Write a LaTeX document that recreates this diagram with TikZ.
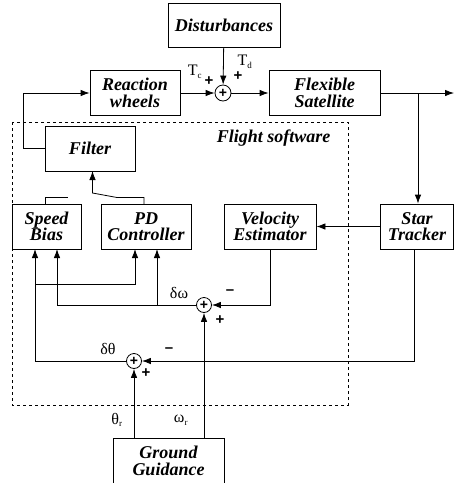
\documentclass[tikz,border=0pt]{standalone}
\usepackage{fontspec}
\setmainfont{Liberation Serif}
\newfontfamily\sgnfont{Liberation Sans}
\usetikzlibrary{arrows.meta}
\tikzset{
  blk/.style={draw, line width=0.8pt, align=center, inner sep=0pt,
    font=\fontsize{18}{16.5}\selectfont\bfseries\itshape},
  sumc/.style={draw, circle, line width=0.8pt, minimum size=16pt, inner sep=0pt,
    font=\sgnfont\bfseries\fontsize{14}{14}\selectfont},
  arr/.style={line width=0.8pt, -{Latex[length=9pt,width=6.5pt]}},
  ln/.style={line width=0.8pt},
  sgn/.style={font=\sgnfont\bfseries\fontsize{15}{15}\selectfont, inner sep=0pt},
  lbl/.style={font=\fontsize{16}{16}\selectfont, inner sep=0pt},
}
\begin{document}
\begin{tikzpicture}[x=1pt, y=-1pt]
\useasboundingbox (0,0) rectangle (454,483);
% dashed flight software region
\draw[dashed, line width=0.7pt] (12,122) rectangle (348,405);
\node[font=\fontsize{18}{18}\selectfont\bfseries\itshape, anchor=east] (fs) at (334,138) {Flight software};
% blocks
\node[blk, minimum width=112pt, minimum height=44pt] (dist) at (224,25) {Disturbances};
\node[blk, minimum width=90pt, minimum height=45pt] (rw) at (135,93) {Reaction\\wheels};
\node[blk, minimum width=111pt, minimum height=45pt] (fsat) at (324.5,93) {Flexible\\Satellite};
\node[blk, minimum width=90pt, minimum height=45pt] (filt) at (90,148.5) {Filter};
\node[blk, minimum width=69pt, minimum height=45pt] (sb) at (46.5,226.5) {Speed\\Bias};
\node[blk, minimum width=90pt, minimum height=45pt] (pd) at (146,226.5) {PD\\Controller};
\node[blk, minimum width=92pt, minimum height=45pt] (vel) at (270,226.5) {Velocity\\Estimator};
\node[blk, minimum width=73pt, minimum height=45pt] (st) at (417,226.5) {Star\\Tracker};
\node[blk, minimum width=111pt, minimum height=45pt] (gg) at (168.5,461) {Ground\\Guidance};
% summing junctions
\node[sumc] (s1) at (223,93) {+};
\node[sumc, minimum size=15pt] (s2) at (204,305) {+};
\node[sumc, minimum size=15pt] (s3) at (134,361) {+};
% coordinates
\coordinate (out) at (454,93);
\coordinate (br) at (418,93);
\coordinate (rwin) at (23,93);
\coordinate (fleft) at (23,148.5);
\coordinate (sbb1) at (35,249);
\coordinate (sbb2) at (57,249);
\coordinate (pdb1) at (135,249);
\coordinate (pdb2) at (157,249);
\coordinate (j1) at (35,284);
\coordinate (j2) at (157,305);
\coordinate (stb) at (414,249);
\coordinate (ggt1) at (134,438.5);
\coordinate (ggt2) at (204,438.5);
\coordinate (pdt) at (144,204);
\coordinate (k1) at (144,197.5);
\coordinate (k2) at (117,197.5);
\coordinate (k3) at (92.5,193);
\coordinate (fb) at (92.5,171);
\coordinate (sbt) at (45,204);
\coordinate (stub1) at (45,197);
\coordinate (stub2) at (68,197);
% connectors
\draw[arr] (dist) -- (s1);
\draw[arr] (rw) -- (s1);
\draw[arr] (s1) -- (fsat);
\draw[arr] (fsat) -- (out);
\draw[arr] (br) -- (st.north -| br);
\draw[arr] (st) -- (vel);
\draw[arr] (vel.south) |- (s2);
\draw[arr] (s2) -| (sbb2);
\draw[arr] (j2) -- (pdb2);
\draw[arr] (s3) -| (sbb1);
\draw[arr] (j1) -| (pdb1);
\draw[arr] (stb) |- (s3);
\draw[arr] (ggt1) -- (s3);
\draw[arr] (ggt2) -- (s2);
\draw[arr] (pdt) -- (k1) -- (k2) -- (k3) -- (fb);
\draw[arr] (filt.west) -- (fleft) -- (rwin) -- (rw);
\draw[ln] (sbt) -- (stub1) -- (stub2);
% labels
\node[lbl] (tc) at (195,72) {T\textsubscript{\fontsize{9}{9}\selectfont c}};
\node[sgn] (p1) at (209,81) {+};
\node[lbl] (td) at (245,62) {T\textsubscript{\fontsize{9}{9}\selectfont d}};
\node[sgn] (p2) at (238,76) {+};
\node[lbl] (dw) at (179,293) {δω};
\node[sgn] (m2) at (230,292) {–};
\node[sgn] (p3) at (220,320) {+};
\node[lbl] (dt) at (108,349) {δθ};
\node[sgn] (m3) at (169,350) {–};
\node[sgn] (p4) at (146,373) {+};
\node[lbl] (thr) at (117,420) {θ\textsubscript{\fontsize{9}{9}\selectfont r}};
\node[lbl] (wr) at (181,420) {ω\textsubscript{\fontsize{9}{9}\selectfont r}};
\end{tikzpicture}
\end{document}
